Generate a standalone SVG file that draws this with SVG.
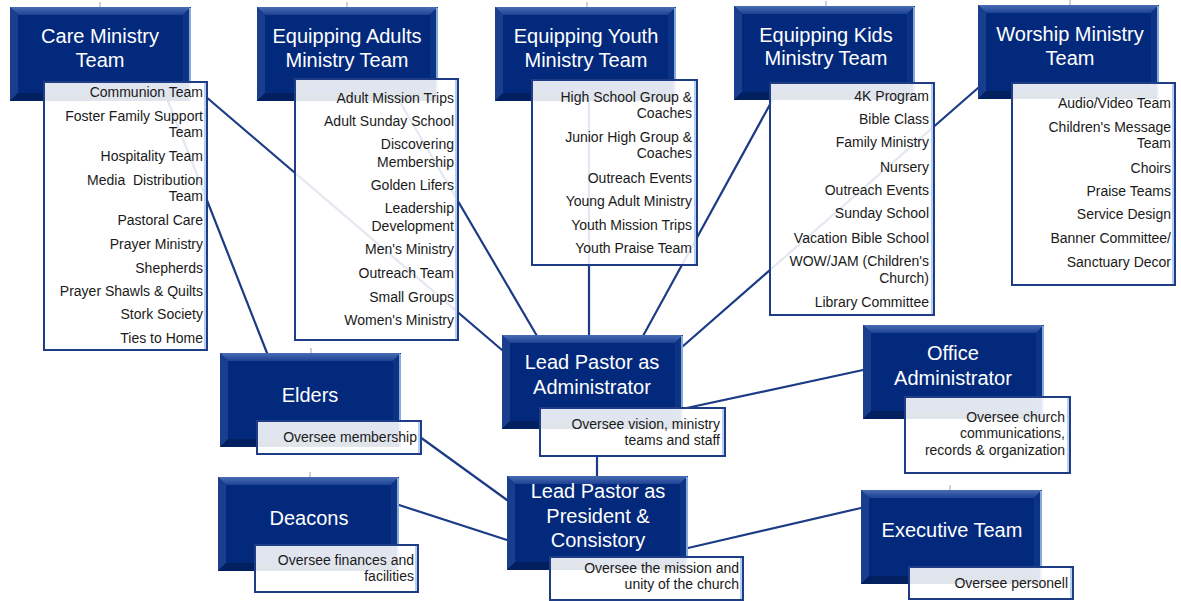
<svg xmlns="http://www.w3.org/2000/svg" width="1181" height="601" viewBox="0 0 1181 601">
<style>
.ln{stroke:#1b3b85;stroke-width:2.2;fill:none;stroke-linecap:round}
.tk{stroke:#a7b0c6;stroke-width:1.2;fill:none}
.ht{font-family:"Liberation Sans",Arial,sans-serif;font-size:20px;fill:#ffffff;text-anchor:middle}
.dt{font-family:"Liberation Sans",Arial,sans-serif;font-size:14px;fill:#1a1a1a;text-anchor:end}
.db{fill:#ffffff;fill-opacity:0.88;stroke:#1f3c87;stroke-width:2}
.de{stroke:#b4d0f2;stroke-width:2}
</style>
<defs>
<linearGradient id="topg" x1="0" y1="0" x2="0" y2="1">
<stop offset="0" stop-color="#4a6cb5"/>
<stop offset="1" stop-color="#1d4292"/>
</linearGradient>
<g id="hdr">
<rect x="0" y="0" width="181" height="94" fill="#03297c"/>
<polygon points="0,0 181,0 173,8 8,8" fill="url(#topg)"/>
<polygon points="0,0 8,8 8,86 0,94" fill="#183e8d"/>
<polygon points="181,0 181,94 173,86 173,8" fill="#0b3386"/>
<polygon points="0,94 181,94 173,86 8,86" fill="#02205f"/>
<line x1="180" y1="1" x2="180" y2="93" stroke="#a9c7ef" stroke-width="1.6"/>
</g>
</defs>
<rect width="1181" height="601" fill="#ffffff"/>

<g id="connectors">
<line class="ln" x1="205" y1="96" x2="502" y2="350"/>
<line class="ln" x1="168" y1="101" x2="267" y2="353"/>
<line class="ln" x1="397" y1="97" x2="537" y2="336"/>
<line class="ln" x1="589" y1="100" x2="589" y2="336"/>
<line class="ln" x1="773" y1="99" x2="643" y2="336"/>
<line class="ln" x1="978" y1="88" x2="682" y2="347"/>
<line class="ln" x1="682" y1="409" x2="863" y2="370"/>
<line class="ln" x1="688" y1="548" x2="861" y2="508"/>
<line class="ln" x1="420" y1="437" x2="507" y2="500"/>
<line class="ln" x1="399" y1="505" x2="507" y2="540"/>
<line class="ln" x1="597" y1="456" x2="597" y2="477"/>
<line class="tk" x1="100" y1="2" x2="100" y2="7"/>
<line class="tk" x1="347" y1="2" x2="347" y2="7"/>
<line class="tk" x1="587" y1="2" x2="587" y2="7"/>
<line class="tk" x1="826" y1="1" x2="826" y2="6"/>
<line class="tk" x1="1070" y1="0" x2="1070" y2="5"/>
<line class="tk" x1="311" y1="348" x2="311" y2="353"/>
<line class="tk" x1="310" y1="472" x2="310" y2="477"/>
<line class="tk" x1="950" y1="485" x2="950" y2="490"/>
</g>

<g id="care">
<use href="#hdr" x="10" y="7"/>
<text class="ht" x="100" y="43">Care Ministry</text>
<text class="ht" x="100" y="67">Team</text>
<rect class="db" x="44" y="82" width="163" height="268"/>
<line class="de" x1="205" y1="83" x2="205" y2="349"/>
<text class="dt" x="203" y="97">Communion Team</text>
<text class="dt" x="203" y="121">Foster Family Support</text>
<text class="dt" x="203" y="137">Team</text>
<text class="dt" x="203" y="161">Hospitality Team</text>
<text class="dt" x="203" y="185" style="white-space:pre">Media  Distribution</text>
<text class="dt" x="203" y="201">Team</text>
<text class="dt" x="203" y="225">Pastoral Care</text>
<text class="dt" x="203" y="249">Prayer Ministry</text>
<text class="dt" x="203" y="273">Shepherds</text>
<text class="dt" x="203" y="296">Prayer Shawls &amp; Quilts</text>
<text class="dt" x="203" y="319">Stork Society</text>
<text class="dt" x="203" y="343">Ties to Home</text>
</g>

<g id="adults">
<use href="#hdr" x="257" y="7"/>
<text class="ht" x="347" y="43">Equipping Adults</text>
<text class="ht" x="347" y="67">Ministry Team</text>
<rect class="db" x="295" y="79" width="163" height="261"/>
<line class="de" x1="456" y1="80" x2="456" y2="339"/>
<text class="dt" x="454" y="103">Adult Mission Trips</text>
<text class="dt" x="454" y="126">Adult Sunday School</text>
<text class="dt" x="454" y="149">Discovering</text>
<text class="dt" x="454" y="167">Membership</text>
<text class="dt" x="454" y="190">Golden Lifers</text>
<text class="dt" x="454" y="213">Leadership</text>
<text class="dt" x="454" y="231">Development</text>
<text class="dt" x="454" y="254">Men's Ministry</text>
<text class="dt" x="454" y="278">Outreach Team</text>
<text class="dt" x="454" y="302">Small Groups</text>
<text class="dt" x="454" y="325">Women's Ministry</text>
</g>

<g id="youth">
<use href="#hdr" x="495" y="7"/>
<text class="ht" x="586" y="43">Equipping Youth</text>
<text class="ht" x="586" y="67">Ministry Team</text>
<rect class="db" x="532" y="80" width="165" height="185"/>
<line class="de" x1="695" y1="81" x2="695" y2="264"/>
<text class="dt" x="692" y="102">High School Group &amp;</text>
<text class="dt" x="692" y="118">Coaches</text>
<text class="dt" x="692" y="142">Junior High Group &amp;</text>
<text class="dt" x="692" y="158">Coaches</text>
<text class="dt" x="692" y="183">Outreach Events</text>
<text class="dt" x="692" y="206">Young Adult Ministry</text>
<text class="dt" x="692" y="230">Youth Mission Trips</text>
<text class="dt" x="692" y="253">Youth Praise Team</text>
</g>

<g id="kids">
<use href="#hdr" x="734" y="6"/>
<text class="ht" x="826" y="42">Equipping Kids</text>
<text class="ht" x="826" y="65">Ministry Team</text>
<rect class="db" x="770" y="83" width="164" height="232"/>
<line class="de" x1="932" y1="84" x2="932" y2="314"/>
<text class="dt" x="929" y="101">4K Program</text>
<text class="dt" x="929" y="124">Bible Class</text>
<text class="dt" x="929" y="147">Family Ministry</text>
<text class="dt" x="929" y="172">Nursery</text>
<text class="dt" x="929" y="195">Outreach Events</text>
<text class="dt" x="929" y="218">Sunday School</text>
<text class="dt" x="929" y="243">Vacation Bible School</text>
<text class="dt" x="929" y="266">WOW/JAM (Children's</text>
<text class="dt" x="929" y="283">Church)</text>
<text class="dt" x="929" y="307">Library Committee</text>
</g>

<g id="worship">
<use href="#hdr" x="978" y="5"/>
<text class="ht" x="1070" y="41">Worship Ministry</text>
<text class="ht" x="1070" y="65">Team</text>
<rect class="db" x="1012" y="83" width="163" height="202"/>
<line class="de" x1="1173" y1="84" x2="1173" y2="284"/>
<text class="dt" x="1171" y="108">Audio/Video Team</text>
<text class="dt" x="1171" y="132">Children's Message</text>
<text class="dt" x="1171" y="148">Team</text>
<text class="dt" x="1171" y="173">Choirs</text>
<text class="dt" x="1171" y="196">Praise Teams</text>
<text class="dt" x="1171" y="219">Service Design</text>
<text class="dt" x="1171" y="243">Banner Committee/</text>
<text class="dt" x="1171" y="267">Sanctuary Decor</text>
</g>

<g id="elders">
<use href="#hdr" x="220" y="353"/>
<text class="ht" x="310" y="402">Elders</text>
<rect class="db" x="257" y="421" width="164" height="33"/>
<line class="de" x1="419" y1="422" x2="419" y2="453"/>
<text class="dt" x="417" y="442">Oversee membership</text>
</g>

<g id="deacons">
<use href="#hdr" x="218" y="477"/>
<text class="ht" x="309" y="525">Deacons</text>
<rect class="db" x="255" y="545" width="163" height="47"/>
<line class="de" x1="416" y1="546" x2="416" y2="591"/>
<text class="dt" x="414" y="565">Oversee finances and</text>
<text class="dt" x="414" y="581">facilities</text>
</g>

<g id="admin">
<use href="#hdr" x="502" y="335"/>
<text class="ht" x="592" y="369">Lead Pastor as</text>
<text class="ht" x="592" y="394">Administrator</text>
<rect class="db" x="540" y="408" width="185" height="48"/>
<line class="de" x1="723" y1="409" x2="723" y2="455"/>
<text class="dt" x="720" y="429">Oversee vision, ministry</text>
<text class="dt" x="720" y="445">teams and staff</text>
</g>

<g id="president">
<use href="#hdr" x="507" y="476"/>
<text class="ht" x="598" y="498">Lead Pastor as</text>
<text class="ht" x="598" y="523">President &amp;</text>
<text class="ht" x="598" y="547">Consistory</text>
<rect class="db" x="550" y="557" width="193" height="43"/>
<line class="de" x1="741" y1="558" x2="741" y2="599"/>
<text class="dt" x="739" y="573">Oversee the mission and</text>
<text class="dt" x="739" y="589">unity of the church</text>
</g>

<g id="office">
<use href="#hdr" x="863" y="325"/>
<text class="ht" x="953" y="360">Office</text>
<text class="ht" x="953" y="385">Administrator</text>
<rect class="db" x="905" y="397" width="165" height="76"/>
<line class="de" x1="1068" y1="398" x2="1068" y2="472"/>
<text class="dt" x="1065" y="422">Oversee church</text>
<text class="dt" x="1065" y="438">communications,</text>
<text class="dt" x="1065" y="455">records &amp; organization</text>
</g>

<g id="executive">
<use href="#hdr" x="861" y="490"/>
<text class="ht" x="952" y="537">Executive Team</text>
<rect class="db" x="909" y="567" width="164" height="32"/>
<line class="de" x1="1071" y1="568" x2="1071" y2="598"/>
<text class="dt" x="1068" y="588">Oversee personell</text>
</g>
</svg>
